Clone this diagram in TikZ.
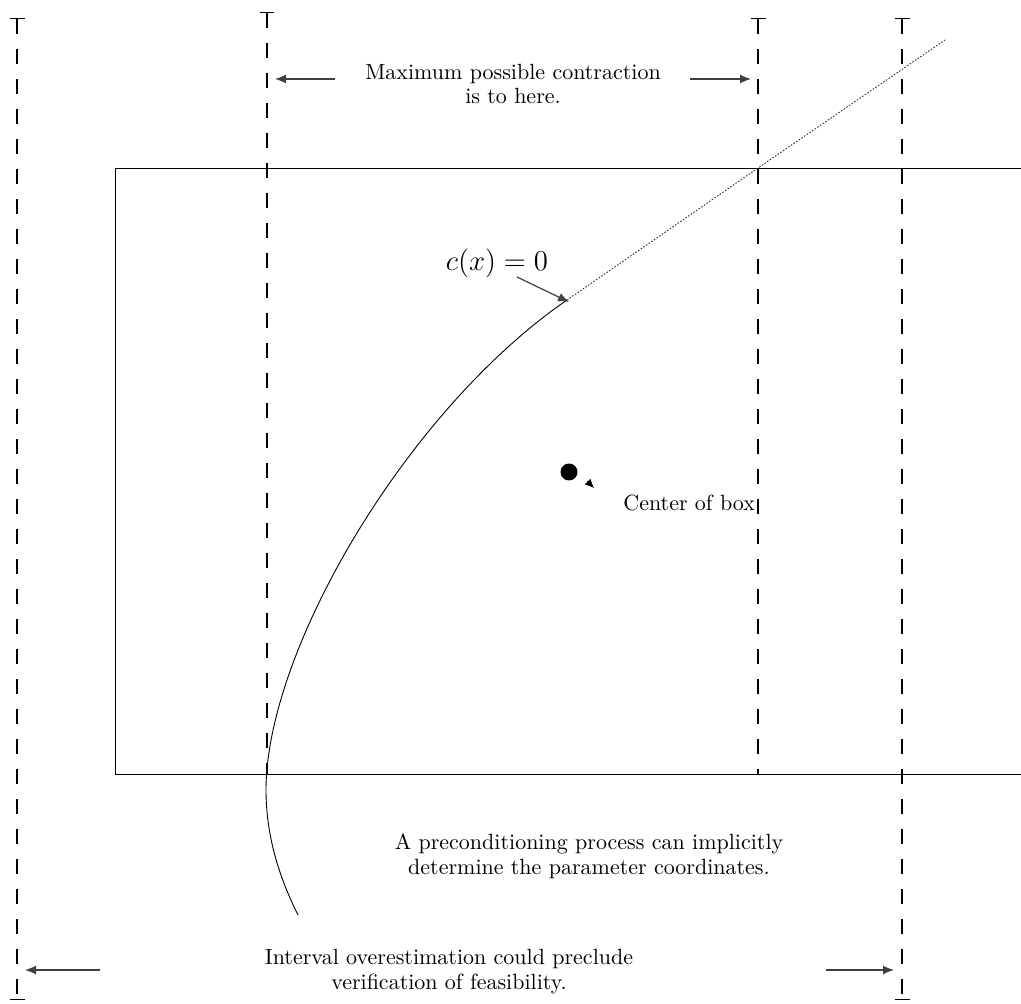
\documentclass[tikz,border=0pt]{standalone}
\usepackage{fontspec}
\setmainfont{Latin Modern Roman}
\usetikzlibrary{arrows.meta}
\tikzset{
  guide/.style={line width=0.65pt, dash pattern=on 7.5pt off 7.5pt},
  pointer/.style={line width=0.6pt, draw=black!75, -{Latex[length=5.5pt,width=4.5pt]}},
  note/.style={font=\fontsize{11}{12.3}\selectfont, align=center, inner sep=0pt},
}
\begin{document}
\begin{tikzpicture}[x=0.5pt,y=-0.5pt]
\useasboundingbox (0,0) rectangle (1021,1004);
% box
\draw[line width=0.5pt] (1025,169) -- (115,169) -- (115,774) -- (1025,774);
% guide lines
\coordinate (g1t) at (17,18);   \coordinate (g1b) at (17,1000);
\coordinate (g2t) at (267,12);  \coordinate (g2b) at (267,774);
\coordinate (g3t) at (758,18);  \coordinate (g3b) at (758,774);
\coordinate (g4t) at (902,18);  \coordinate (g4b) at (902,1000);
\draw[guide, {Bar[width=7.5pt]}-{Bar[width=7.5pt]}] (g1t) -- (g1b);
\draw[guide, {Bar[width=7pt]}-] (g2t) -- (g2b);
\draw[guide, {Bar[width=7.5pt]}-] (g3t) -- (g3b);
\draw[guide, {Bar[width=7.5pt]}-{Bar[width=7.5pt]}] (g4t) -- (g4b);
% curve c(x)=0
\coordinate (cv0) at (298,915);
\coordinate (cv1) at (266,790);
\coordinate (cv2) at (567,300);
\coordinate (cv3) at (758,168);
\coordinate (cv4) at (945,40);
\draw[line width=0.45pt] (cv0) .. controls (277,873) and (266,832) .. (cv1)
  .. controls (266,650) and (407,410) .. (cv2);
\draw[line width=0.45pt, draw=black!80, dash pattern=on 0.8pt off 0.8pt] (cv2) -- (cv3) -- (cv4);
% top label
\node[note, anchor=base] (top) at (513,104) {Maximum possible contraction\\is to here.};
\coordinate (tla) at (335,79); \coordinate (tlb) at (275,79);
\coordinate (tra) at (690,79); \coordinate (trb) at (751,79);
\draw[pointer] (tla) -- (tlb);
\draw[pointer] (tra) -- (trb);
% c(x)=0
\node[inner sep=0pt, font=\fontsize{14.4}{17}\selectfont] (cx) at (497,263) {$c(x) = 0$};
\coordinate (cxa) at (517,277); \coordinate (cxb) at (569,302);
\draw[pointer] (cxa) -- (cxb);
% center of box
\node[circle, fill=black, inner sep=0pt, minimum size=8.5pt] (ctr) at (569,472) {};
\coordinate (cta) at (587,481); \coordinate (ctb) at (594,488);
\draw[-{Latex[length=4.5pt,width=4pt]}, line width=0.3pt] (cta) -- (ctb);
\node[note, anchor=base west] (cob) at (623,510) {Center of box};
% lower notes
\node[note, anchor=base] (pre) at (589,874) {A preconditioning process can implicitly\\determine the parameter coordinates.};
\node[note, anchor=base] (iv) at (449,989) {Interval overestimation could preclude\\verification of feasibility.};
\coordinate (bla) at (100,970); \coordinate (blb) at (25,970);
\coordinate (bra) at (826,970); \coordinate (brb) at (894,970);
\draw[pointer] (bla) -- (blb);
\draw[pointer] (bra) -- (brb);
\end{tikzpicture}
\end{document}
